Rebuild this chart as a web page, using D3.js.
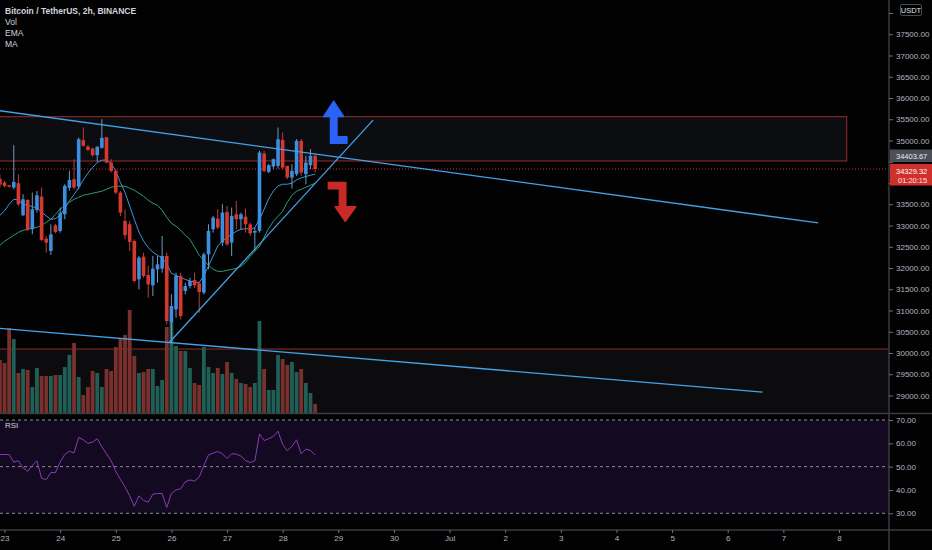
<!DOCTYPE html>
<html>
<head>
<meta charset="utf-8">
<script src="https://cdnjs.cloudflare.com/ajax/libs/d3/7.8.5/d3.min.js"></script>
<style>
  body{margin:0;background:#000;}
  svg{display:block;font-family:"Liberation Sans",Arial,sans-serif;}
</style>
</head>
<body>
<div id="chart"></div>
<script>
// BTC/USDT 2h candles, 22 Jun 22:00 -> 28 Jun 14:00 (UTC)
const firstCandle = Date.UTC(2021,5,22,22);
const open  = [34100,34010,33948,33893,33995,33241,33602,32911,33366,33680,32691,32401,33005,32872,33264,33885,34089,33916,35008,34858,34811,34654,34827,35078,34481,34285,33775,33107,33029,32636,31733,32267,31835,31592,31969,31984,32283,30712,31026,31811,31458,31576,31717,31639,31419,32322,32911,33162,32597,33319,32597,33264,33147,33209,33029,32832,32872,34694,34262,34387,34403,35015,34403,34128,34207,34992,34207,34419,34639];
const high  = [34200,34050,33960,34890,34207,33736,33618,33775,33814,33893,32754,33029,33040,33421,33971,34285,34560,35070,35306,34890,34830,34870,35502,35078,34560,34325,33814,33382,33107,32675,32283,32361,32047,32283,32283,32754,32361,31380,31890,31890,31654,31772,31890,31680,32361,33029,33225,33382,33500,33461,33421,33578,33304,33398,33068,32950,34756,34756,34450,34576,35306,35188,34403,34442,35031,35031,34639,34796,34678];
const low   = [33900,33900,33890,33853,33461,33225,32872,32793,33304,32636,32361,32306,32820,32832,33147,33814,33853,33853,34858,34750,34620,34500,34811,34466,34246,33736,33225,32675,32401,31654,31497,31772,31301,31340,31654,31890,30673,30241,30830,30791,31380,31520,31537,30948,31380,31969,32832,32911,32518,32518,32283,32911,32911,32832,32754,32401,32832,34246,34230,34325,34340,34325,34089,33869,34167,34167,33971,34325,34246];
const close = [33960,33932,33916,34026,33500,33618,32911,33382,33712,32660,32597,32793,32848,33288,33932,34073,33893,35031,34874,34780,34654,34850,35063,34481,34285,33775,33304,32770,32613,31694,32244,31811,31615,31984,32086,32283,30752,31105,31811,30869,31576,31694,31592,31435,32322,32872,33186,32950,33304,32558,33225,33147,33264,33029,32817,32872,34717,34285,34419,34560,35031,34364,34128,34285,34992,34246,34481,34639,34329.32];
const volume = [1325,1250,2125,1850,1000,1100,1075,650,1125,925,925,925,950,950,1150,1450,1750,900,450,650,1050,1000,650,1100,1050,1650,1850,1950,2575,1425,1000,1025,1100,1100,675,825,2150,2250,1675,1550,1550,1125,750,700,1650,1150,1000,1125,975,1275,1000,850,750,725,650,750,2300,1100,575,575,1450,1350,1200,1275,1025,1100,750,500,225];
const ema = [33241,33342,33500,33618,33601,33500,33476,33446,33406,33318,33224,33147,33163,33241,33406,33578,33728,33893,34072,34230,34365,34482,34537,34544,34459,34285,34011,33776,33460,33147,32847,32635,32480,32376,32298,32244,32086,31874,31827,31773,31733,31693,31669,31655,31827,32046,32282,32517,32635,32715,32793,32864,32911,32927,32911,32951,33147,33382,33634,33813,33931,33971,33971,33995,34072,34120,34153,34183,34207];
const ma = [32534,32628,32699,32770,32840,32887,32911,32935,32958,33005,33076,33147,33264,33382,33476,33547,33618,33665,33712,33736,33759,33783,33806,33853,33900,33924,33924,33924,33877,33830,33759,33688,33594,33524,33476,33359,33194,33052,32982,32887,32770,32675,32487,32298,32181,32063,31969,31921,31921,31945,31969,31992,32039,32133,32275,32393,32510,32722,32935,33099,33217,33335,33547,33712,33806,33853,33900,33948,33995];
const rsi = [55.2,55.2,55.2,51.9,52.5,49.5,48,50.5,52.5,45,44.5,47.5,47.5,52,55.2,56.6,55.9,62.5,61.5,60,60.5,62,58.5,55.5,52.5,48,44.5,41.3,37.5,33,37.5,35.5,34.8,38.2,38.5,38.5,32.5,38.5,40,40.5,43.5,44.3,43.8,45.5,50.5,55,55.8,56.5,55.5,53.5,55.5,55.4,54.5,52.6,51.8,52.5,64,61.2,62,63,65.2,59.5,56.8,58.8,61.5,55.5,57.5,57,55];

const priceTicks = d3.range(29000, 38001, 500);
const hiddenPriceLabels = [34000, 34500, 38000]; // covered by the price / currency tags
const rsiTicks = [30,40,50,60,70];
const legend = ["Bitcoin / TetherUS, 2h, BINANCE","Vol","EMA","MA"];

// drawings (time, price)
const trendLines = [
  [[Date.UTC(2021,5,22,22),35700],[Date.UTC(2021,6,7,15),33060]],
  [[Date.UTC(2021,5,22,22),30580],[Date.UTC(2021,6,6,15),29080]],
  [[Date.UTC(2021,5,25,23),30240],[Date.UTC(2021,5,29,15),35480]]
];
const resistBox = {t0:Date.UTC(2021,5,22,0), t1:Date.UTC(2021,6,8,3,20), top:35560, bottom:34518};
const supportBox = {t0:Date.UTC(2021,5,22,0), t1:Date.UTC(2021,6,12), top:30094, bottom:27000};
const lastPrice = 34329.32, markPrice = 34403.67;

const width = 932, height = 550;
const axisX = 889, mainBottom = 413.5, rsiBottom = 530;

const times = close.map((d,i) => d3.utcHour.offset(new Date(firstCandle), 2*i));
const candles = times.map((t,i) => ({t, o:open[i], h:high[i], l:low[i], c:close[i], v:volume[i]}));

const x = d3.scaleUtc().domain([Date.UTC(2021,5,23), Date.UTC(2021,6,8)]).range([4.5, 839]);
const y = d3.scaleLinear().domain([29000, 38000]).range([395.5, 13]);
const yVol = d3.scaleLinear().domain([0, 2825]).range([413, 300]);
const yRsi = d3.scaleLinear().domain([30, 70]).range([513.3, 420]);

const upCol = "#3b8ee0", downCol = "#d6372f";

const svg = d3.select("#chart").append("svg")
  .attr("width", width).attr("height", height)
  .style("background", "#020202");

const defs = svg.append("defs");
defs.append("clipPath").attr("id","mainClip").append("rect")
  .attr("x",0).attr("y",0).attr("width",axisX).attr("height",mainBottom);
defs.append("clipPath").attr("id","rsiClip").append("rect")
  .attr("x",0).attr("y",mainBottom+1).attr("width",axisX).attr("height",rsiBottom-mainBottom-1);

const main = svg.append("g").attr("clip-path","url(#mainClip)");

// boxes
main.append("rect")
  .attr("x", x(supportBox.t0)).attr("y", y(supportBox.top))
  .attr("width", x(supportBox.t1)-x(supportBox.t0)).attr("height", y(supportBox.bottom)-y(supportBox.top))
  .attr("fill","#0c0c0f");
main.append("line")
  .attr("x1",0).attr("x2",axisX).attr("y1",y(supportBox.top)).attr("y2",y(supportBox.top))
  .attr("stroke","#8f2a2a").attr("stroke-width",1.2);
main.append("rect")
  .attr("x", x(resistBox.t0)).attr("y", y(resistBox.top))
  .attr("width", x(resistBox.t1)-x(resistBox.t0)).attr("height", y(resistBox.bottom)-y(resistBox.top))
  .attr("fill","#0b0d11").attr("stroke","#9a2b2b").attr("stroke-width",1);

// volume
main.selectAll("rect.vol").data(candles).enter().append("rect")
  .attr("class","vol")
  .attr("x", d => x(d.t)-1.9)
  .attr("y", d => yVol(d.v))
  .attr("width", 3.8)
  .attr("height", d => yVol(0)-yVol(d.v))
  .attr("fill", d => d.c >= d.o ? "#1f5f56" : "#7a302d");

// last price dotted line
main.append("line")
  .attr("x1",0).attr("x2",axisX).attr("y1",y(lastPrice)).attr("y2",y(lastPrice))
  .attr("stroke","#c2302c").attr("stroke-width",1).attr("stroke-dasharray","1,2");

// moving averages
const lineGen = d3.line().x((d,i) => x(times[i])).y(d => y(d));
main.append("path").datum(ma).attr("d",lineGen)
  .attr("fill","none").attr("stroke","#2c9c78").attr("stroke-width",1);
main.append("path").datum(ema).attr("d",lineGen)
  .attr("fill","none").attr("stroke","#3f95dc").attr("stroke-width",1);

// candles
const cg = main.selectAll("g.candle").data(candles).enter().append("g").attr("class","candle");
cg.append("line")
  .attr("x1", d => x(d.t)).attr("x2", d => x(d.t))
  .attr("y1", d => y(d.h)).attr("y2", d => y(d.l))
  .attr("stroke", d => d.c >= d.o ? "#7099c4" : "#b8403a").attr("stroke-width",1);
cg.append("rect")
  .attr("x", d => x(d.t)-1.8)
  .attr("y", d => y(Math.max(d.o,d.c)))
  .attr("width", 3.6)
  .attr("height", d => Math.max(1, Math.abs(y(d.o)-y(d.c))))
  .attr("fill", d => d.c >= d.o ? upCol : downCol);

// trend lines
main.selectAll("line.trend").data(trendLines).enter().append("line")
  .attr("class","trend")
  .attr("x1", d => x(d[0][0])).attr("y1", d => y(d[0][1]))
  .attr("x2", d => x(d[1][0])).attr("y2", d => y(d[1][1]))
  .attr("stroke","#44a2ea").attr("stroke-width",1.3);

// arrows anchored at their tips
const upArrow = [[0,0],[10.2,15.7],[3.4,15.7],[3.4,35.7],[13.4,35.7],[13.4,42.3],[-3.3,42.3],[-3.3,15.7],[-10.3,15.7]];
const downArrow = [[0,0],[-10.3,-15],[-6,-15],[-6,-32.7],[-17,-32.7],[-17,-39.4],[0.7,-39.4],[0.7,-15],[10.7,-15]];
const arrows = [
  {t:Date.UTC(2021,5,28,22), p:35930, shape:upArrow, col:"#2a63f5"},
  {t:Date.UTC(2021,5,29,3), p:33089, shape:downArrow, col:"#c92a27"}
];
main.selectAll("path.arrow").data(arrows).enter().append("path")
  .attr("class","arrow")
  .attr("d", d => "M" + d.shape.map(s => [x(d.t)+s[0], y(d.p)+s[1]].join(",")).join("L") + "Z")
  .attr("fill", d => d.col).attr("stroke", d => d.col)
  .attr("stroke-width",1.2).attr("stroke-linejoin","round");

// legend
svg.selectAll("text.legend").data(legend).enter().append("text")
  .attr("class","legend")
  .attr("x",5).attr("y",(d,i) => 14 + i*11)
  .attr("fill","#d1d4dc").attr("font-size","8.5px")
  .attr("font-weight",(d,i) => i === 0 ? 600 : 400)
  .text(d => d);

// RSI pane
const rsiG = svg.append("g").attr("clip-path","url(#rsiClip)");
rsiG.append("rect")
  .attr("x",0).attr("y",yRsi(70)).attr("width",axisX).attr("height",yRsi(30)-yRsi(70))
  .attr("fill","#130a22");
rsiG.selectAll("line.level").data([70,50,30]).enter().append("line")
  .attr("class","level")
  .attr("x1",0).attr("x2",axisX).attr("y1",d => yRsi(d)).attr("y2",d => yRsi(d))
  .attr("stroke","#8d8f99").attr("stroke-width",1).attr("stroke-dasharray","3,3");
rsiG.append("path").datum(rsi)
  .attr("d", d3.line().x((d,i) => x(times[i])).y(d => yRsi(d)))
  .attr("fill","none").attr("stroke","#8a3cb4").attr("stroke-width",1);
svg.append("text").attr("x",5).attr("y",428).attr("fill","#d1d4dc")
  .attr("font-size","8px").text("RSI");

// separators
svg.append("line").attr("x1",0).attr("x2",width).attr("y1",mainBottom).attr("y2",mainBottom)
  .attr("stroke","#3a3c44").attr("stroke-width",1.5);
svg.append("line").attr("x1",0).attr("x2",width).attr("y1",rsiBottom).attr("y2",rsiBottom)
  .attr("stroke","#3a3c44").attr("stroke-width",1.5);
svg.append("line").attr("x1",axisX).attr("x2",axisX).attr("y1",0).attr("y2",height)
  .attr("stroke","#3a3c44").attr("stroke-width",1.5);

// axes
function styleAxis(g){
  g.select(".domain").remove();
  g.selectAll(".tick line").attr("stroke","#6f717a");
  g.selectAll(".tick text").attr("fill","#b2b5be").attr("font-size","8px")
    .attr("font-family","Liberation Sans, Arial, sans-serif");
}
svg.append("g").attr("transform",`translate(${axisX},0)`)
  .call(d3.axisRight(y).tickValues(priceTicks)
    .tickFormat(d => hiddenPriceLabels.includes(d) ? "" : d3.format(".2f")(d))
    .tickSize(4).tickPadding(3))
  .call(styleAxis);
svg.append("g").attr("transform",`translate(${axisX},0)`)
  .call(d3.axisRight(yRsi).tickValues(rsiTicks).tickFormat(d3.format(".2f")).tickSize(4).tickPadding(3))
  .call(styleAxis);
svg.append("g").attr("transform",`translate(0,${rsiBottom})`)
  .call(d3.axisBottom(x).ticks(d3.utcDay.every(1))
    .tickFormat(d => d.getUTCDate() === 1 ? d3.utcFormat("%b")(d) : d3.utcFormat("%-d")(d))
    .tickSize(3).tickPadding(2))
  .call(styleAxis);

// price labels
svg.append("rect").attr("x",axisX+1).attr("y",149.5).attr("width",width-axisX-1).attr("height",12.5)
  .attr("fill","#4c4f58");
svg.append("text").attr("x",896).attr("y",158.5).attr("fill","#e8e9ec").attr("font-size","7.5px")
  .text(d3.format(".2f")(markPrice));
svg.append("rect").attr("x",axisX+1).attr("y",y(lastPrice)-5).attr("width",width-axisX-1).attr("height",21.5)
  .attr("fill","#d0302c");
svg.append("text").attr("x",896).attr("y",y(lastPrice)+4.5).attr("fill","#ffffff").attr("font-size","7.5px")
  .text(d3.format(".2f")(lastPrice));
svg.append("text").attr("x",898).attr("y",y(lastPrice)+13.5).attr("fill","#ffe3e3").attr("font-size","7.5px")
  .text("01:20:15");

// currency tag
svg.append("rect").attr("x",900.5).attr("y",4.5).attr("width",21).attr("height",11)
  .attr("fill","#000").attr("stroke","#5a5d66").attr("stroke-width",0.8).attr("rx",1.5);
svg.append("text").attr("x",911).attr("y",12.8).attr("text-anchor","middle")
  .attr("fill","#e0e3ea").attr("font-size","7.5px").text("USDT");
</script>
</body>
</html>
